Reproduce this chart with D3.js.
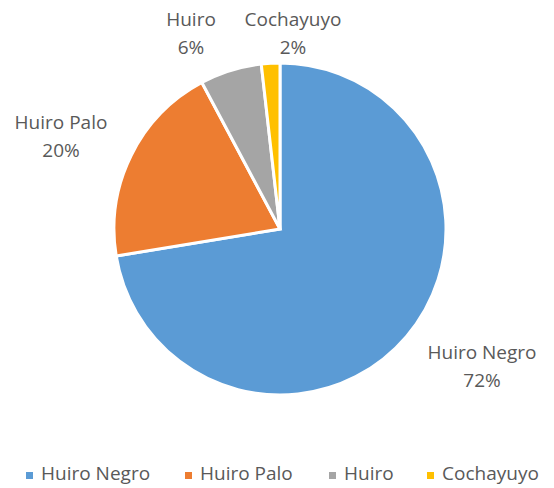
<!DOCTYPE html>
<meta charset="utf-8" />
<head>
  <style>
    body { margin: 0; background: #fff; }
    text { font-family: "Open Sans", "Liberation Sans", sans-serif; fill: #595959; }
  </style>
  <script src="https://cdn.jsdelivr.net/npm/d3@7"></script>
</head>
<body>
<script>
  var categories = ["Huiro Negro", "Huiro Palo", "Huiro", "Cochayuyo"],
    values = [72.4, 19.8, 6.0, 1.8],
    percentLabels = ["72%", "20%", "6%", "2%"],
    colors = ["#5B9BD5", "#ED7D31", "#A5A5A5", "#FFC000"];

  var width = 554, height = 488,
    cx = 280, cy = 229, radius = 166;

  // data label anchors: centre x, baseline of the name line
  var labelPos = [[482, 359], [61, 129], [191, 26], [293, 26]];

  var svg = d3.select("body").append("svg")
    .attr("width", width)
    .attr("height", height);

  var pie = d3.pie().sort(null).value(function(d) { return d; });
  var arc = d3.arc().innerRadius(0).outerRadius(radius);

  var g = svg.append("g").attr("transform", "translate(" + cx + "," + cy + ")");

  g.selectAll("path")
    .data(pie(values))
    .enter()
    .append("path")
    .attr("d", arc)
    .attr("fill", function(d, i) { return colors[i]; })
    .attr("stroke", "#fff")
    .attr("stroke-width", 3);

  var labels = svg.selectAll("g.lbl")
    .data(categories)
    .enter()
    .append("g")
    .attr("class", "lbl")
    .attr("transform", function(d, i) { return "translate(" + labelPos[i][0] + "," + labelPos[i][1] + ")"; });

  labels.append("text")
    .attr("text-anchor", "middle")
    .attr("font-size", 19)
    .text(function(d) { return d; });

  labels.append("text")
    .attr("text-anchor", "middle")
    .attr("font-size", 19)
    .attr("y", 28)
    .text(function(d, i) { return percentLabels[i]; });

  // legend
  var legendX = [26, 185, 329, 427];
  var legend = svg.selectAll("g.leg")
    .data(categories)
    .enter()
    .append("g")
    .attr("class", "leg")
    .attr("transform", function(d, i) { return "translate(" + legendX[i] + ",480)"; });

  legend.append("rect")
    .attr("x", 0).attr("y", -8)
    .attr("width", 7).attr("height", 7)
    .attr("fill", function(d, i) { return colors[i]; });

  legend.append("text")
    .attr("x", 15)
    .attr("y", 0)
    .attr("font-size", 19)
    .text(function(d) { return d; });
</script>
</body>
